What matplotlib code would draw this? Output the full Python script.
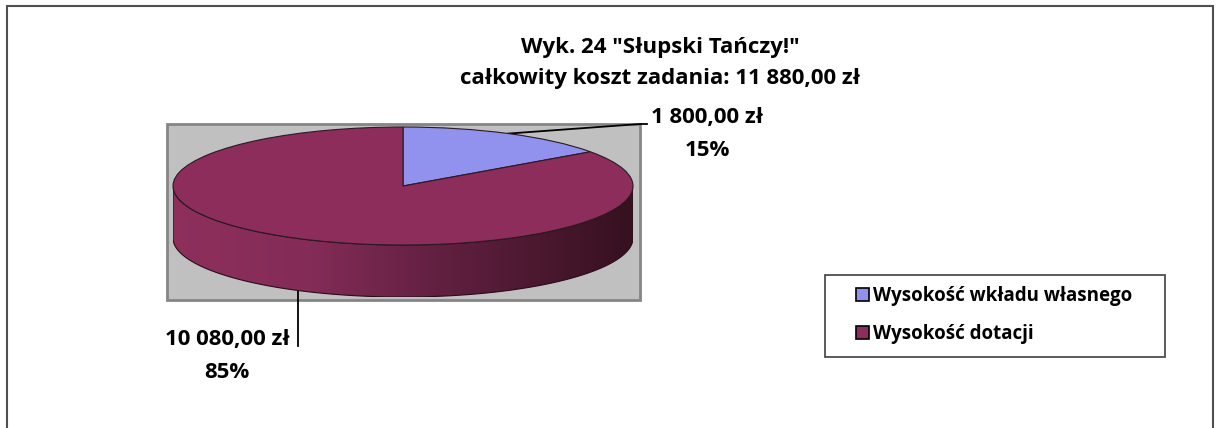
import numpy as np
import matplotlib
matplotlib.use("Agg")
import matplotlib.pyplot as plt
from matplotlib.patches import Rectangle, Polygon
from matplotlib.colors import LinearSegmentedColormap

# ----
# Data
# ----
categories = ["Wysokość wkładu własnego", "Wysokość dotacji"]
values = [1800.0, 10080.0]
value_labels = ["1 800,00 zł", "10 080,00 zł"]
title_lines = ['Wyk. 24 "Słupski Tańczy!"', "całkowity koszt zadania: 11 880,00 zł"]

colors = ["#9191EE", "#8C2D5B"]

W, H = 1216, 428
plt.rcParams["font.family"] = ["Open Sans", "DejaVu Sans"]
plt.rcParams["font.weight"] = "bold"
FS = 16

fig = plt.figure(figsize=(W / 100, H / 100), dpi=100)

# background axes in pixel coordinates
bg = fig.add_axes([0, 0, 1, 1])
bg.set_xlim(0, W)
bg.set_ylim(H, 0)
bg.axis("off")

bg.add_patch(Rectangle((7, 6), 1206, 440, facecolor="white", edgecolor="#505050", lw=1.5))
bg.add_patch(Rectangle((167, 124), 473, 176, facecolor="#C0C0C0", edgecolor="#858585", lw=2))

for i, line in enumerate(title_lines):
    bg.text(660, 47 + 31 * i, line, ha="center", va="center", fontsize=FS, fontweight="bold")

# ----
# 3D-ish pie geometry
# ----
cx, cy, rx, ry, depth = 403, 186, 230, 59, 52
d = depth / ry

ax = fig.add_axes([(cx - rx) / W, 1 - (cy + ry + depth) / H, 2 * rx / W, (2 * ry + depth) / H])
ax.patch.set_alpha(0)

# side wall (front half), gradient
t = np.linspace(np.pi, 2 * np.pi, 200)
side = np.concatenate([np.c_[np.cos(t), np.sin(t)], np.c_[np.cos(t[::-1]), np.sin(t[::-1]) - d]])
side_poly = Polygon(side, closed=True, facecolor="none", edgecolor="#2a0c1a", lw=0.8, zorder=3)
ax.add_patch(side_poly)
cmap = LinearSegmentedColormap.from_list(
    "side", [(0, "#8E2F5C"), (0.3, "#832C57"), (0.6, "#5F1F3F"), (1.0, "#36111F")])
grad = np.linspace(0, 1, 256).reshape(1, -1)
im = ax.imshow(grad, cmap=cmap, extent=(-1, 1, -1 - d, 0), aspect="auto", zorder=2)
im.set_clip_path(side_poly)

wedges, _ = ax.pie(values, colors=colors, startangle=90, counterclock=False,
                   wedgeprops=dict(edgecolor="#2a1a22", linewidth=0.8, zorder=4))
ax.set_aspect("auto")
ax.set_xlim(-1, 1)
ax.set_ylim(-1 - d, 1)
ax.axis("off")

# ----
# Leader lines and data labels
# ----
total = sum(values)
start = 90.0
mids = []
for v in values:
    ang = start - 360 * v / total / 2
    mids.append(np.deg2rad(ang))
    start -= 360 * v / total

# label 1 (top edge of blue slice)
a = mids[0]
px, py = cx + rx * np.cos(a), cy - ry * np.sin(a)
bg.plot([px, 640, 647], [py, 124, 124], color="black", lw=1.3)
bg.text(707, 117, value_labels[0], ha="center", va="center", fontsize=FS, fontweight="bold")
bg.text(707, 151, f"{values[0] / total:.0%}", ha="center", va="center", fontsize=FS, fontweight="bold")

# label 2 (bottom edge of maroon slice)
a = mids[1]
px, py = cx + rx * np.cos(a), cy - ry * np.sin(a) + depth
bg.plot([px, px], [py, 346], color="black", lw=1.3)
bg.text(227, 339, value_labels[1], ha="center", va="center", fontsize=FS, fontweight="bold")
bg.text(227, 373, f"{values[1] / total:.0%}", ha="center", va="center", fontsize=FS, fontweight="bold")

# ----
# Legend
# ----
bg.add_patch(Rectangle((825, 275), 340, 82, facecolor="white", edgecolor="#404040", lw=1.2))
leg = fig.legend(wedges, categories, loc="center left",
                 bbox_to_anchor=(856 / W, 1 - 315 / H), frameon=False,
                 fontsize=13.5, handlelength=0.7, handleheight=0.7,
                 handletextpad=0.2, labelspacing=1.0, borderpad=0, borderaxespad=0)
for h in leg.legend_handles:
    h.set_edgecolor("black")
    h.set_linewidth(1.2)

fig.savefig("out.png", dpi=100)
